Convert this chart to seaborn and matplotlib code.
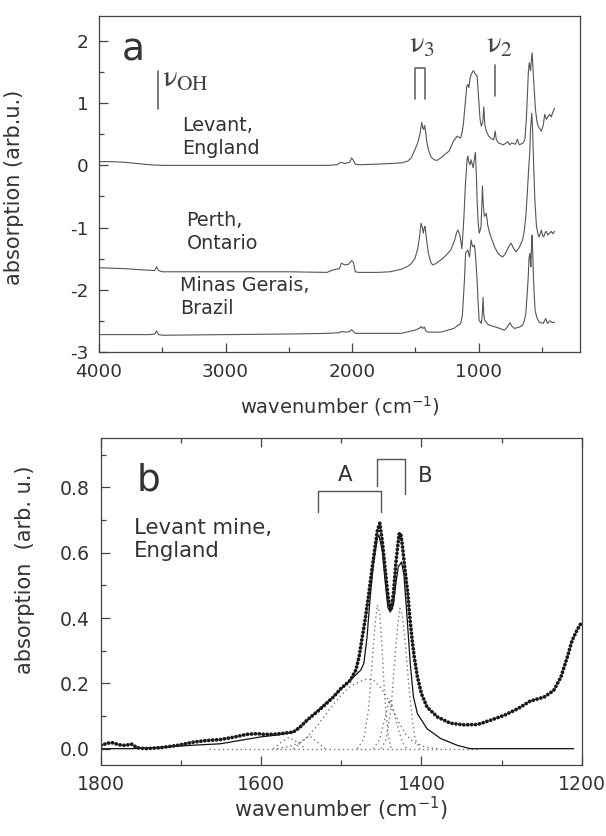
import numpy as np
import pandas as pd
import matplotlib
matplotlib.use("Agg")
import matplotlib.pyplot as plt
from matplotlib.ticker import MultipleLocator, FixedLocator, FormatStrFormatter
import seaborn as sns

# ---------------- panel a data (wavenumber cm-1, absorption arb.u.) ----------------
levant_wn = [4000, 3900, 3800, 3700, 3600, 3500, 3000, 2500, 2200, 2120, 2090, 2060, 2020, 2005, 1990,
             1975, 1950, 1800, 1700, 1612, 1560, 1534, 1505, 1482, 1465, 1450, 1442, 1435, 1428, 1420,
             1412, 1398, 1375, 1352, 1330, 1300, 1260, 1234, 1200, 1170, 1155, 1143, 1130, 1122, 1104,
             1094, 1086, 1078, 1068, 1060, 1044, 1035, 1026, 1013, 1000, 990, 980, 968, 960, 952, 940,
             922, 900, 883, 870, 862, 844, 805, 770, 755, 740, 710, 695, 680, 650, 636, 625, 617, 608,
             601, 591, 584, 578, 570, 565, 552, 540, 531, 515, 505, 490, 479, 466, 455, 440, 427, 415, 401]
levant_abs = [0.06, 0.06, 0.05, 0.03, 0.01, 0.0, 0.0, 0.0, 0.0, 0.01, 0.05, 0.03, 0.05, 0.12, 0.08,
              0.02, 0.01, 0.02, 0.03, 0.04, 0.07, 0.12, 0.25, 0.36, 0.50, 0.69, 0.60, 0.58, 0.64, 0.55,
              0.40, 0.25, 0.13, 0.09, 0.08, 0.12, 0.19, 0.23, 0.39, 0.47, 0.45, 0.44, 0.55, 0.65, 1.06,
              1.28, 1.30, 1.25, 1.40, 1.46, 1.52, 1.50, 1.46, 1.44, 1.06, 0.75, 0.63, 0.70, 0.94, 0.65, 0.55,
              0.47, 0.43, 0.41, 0.55, 0.42, 0.36, 0.33, 0.38, 0.33, 0.36, 0.34, 0.42, 0.33, 0.36, 0.41, 0.70, 1.06, 1.50,
              1.65, 1.52, 1.70, 1.81, 1.50, 1.33, 0.90, 0.70, 0.63, 0.58, 0.55, 0.65, 0.82, 0.74, 0.78, 0.82, 0.78, 0.85, 0.92]

perth_wn = [4000, 3800, 3650, 3560, 3545, 3530, 3500, 3000, 2500, 2200, 2150, 2100, 2085, 2060, 2030,
            2005, 1990, 1975, 1950, 1800, 1700, 1612, 1560, 1534, 1505, 1482, 1468, 1456, 1445, 1438,
            1430, 1424, 1412, 1398, 1380, 1365, 1340, 1300, 1260, 1221, 1190, 1175, 1164, 1150, 1143,
            1133, 1125, 1117, 1105, 1099, 1092, 1086, 1078, 1070, 1060, 1052, 1044, 1035, 1026, 1018,
            1013, 1005, 997, 990, 982, 975, 971, 965, 956, 948, 940, 930, 914, 895, 875, 862, 849, 830,
            810, 790, 771, 755, 745, 725, 706, 680, 654, 640, 628, 615, 604, 597, 591, 581, 575, 570,
            557, 544, 530, 523, 505, 495, 487, 475, 466, 455, 440, 427, 415, 401]
perth_abs = [-1.645, -1.66, -1.68, -1.69, -1.63, -1.69, -1.71, -1.71, -1.71, -1.72, -1.68, -1.66, -1.57, -1.60, -1.59,
             -1.53, -1.56, -1.71, -1.72, -1.72, -1.71, -1.67, -1.62, -1.58, -1.50, -1.34, -1.15, -0.93, -1.00, -1.09,
             -1.00, -0.98, -1.20, -1.41, -1.55, -1.60, -1.58, -1.52, -1.45, -1.36, -1.20, -1.08, -1.04, -1.12, -1.20,
             -1.34, -1.10, -0.82, -0.30, -0.12, 0.10, 0.15, 0.05, 0.01, 0.09, 0.02, -0.04, 0.10, 0.21, -0.20,
             -0.55, -0.90, -1.09, -1.05, -0.98, -0.60, -0.33, -0.60, -0.82, -0.80, -0.77, -0.95, -1.09, -1.20, -1.31, -1.36, -1.41, -1.45,
             -1.47, -1.42, -1.34, -1.28, -1.25, -1.33, -1.39, -1.32, -1.20, -1.05, -0.82, -0.40, 0.0, 0.20, 0.58, 0.84, 0.60, 0.25,
             -0.55, -0.98, -1.12, -1.15, -1.04, -1.13, -1.15, -1.08, -1.06, -1.12, -1.09, -1.06, -1.10, -1.06]

minas_wn = [4000, 3800, 3600, 3560, 3545, 3530, 3500, 3000, 2500, 2200, 2100, 2085, 2050, 2020, 2005,
            1990, 1975, 1900, 1800, 1700, 1612, 1508, 1470, 1456, 1443, 1430, 1418, 1404, 1300, 1196,
            1143, 1130, 1122, 1112, 1104, 1095, 1086, 1080, 1073, 1065, 1060, 1052, 1044, 1035, 1031,
            1022, 1013, 1005, 997, 979, 972, 966, 960, 953, 930, 914, 880, 862, 820, 797, 775, 760, 753,
            740, 719, 680, 654, 640, 628, 615, 609, 603, 596, 590, 588, 583, 578, 572, 568, 560, 555,
            540, 523, 505, 492, 480, 471, 462, 453, 442, 435, 420, 401]
minas_abs = [-2.72, -2.72, -2.72, -2.71, -2.66, -2.72, -2.73, -2.72, -2.71, -2.70, -2.69, -2.67, -2.68, -2.67, -2.64,
             -2.67, -2.70, -2.70, -2.70, -2.70, -2.70, -2.65, -2.62, -2.59, -2.62, -2.60, -2.66, -2.68, -2.68, -2.62,
             -2.54, -2.42, -2.17, -1.80, -1.41, -1.38, -1.36, -1.42, -1.47, -1.30, -1.20, -1.28, -1.31, -1.28, -1.33,
             -1.55, -1.84, -2.20, -2.49, -2.54, -2.40, -2.12, -2.40, -2.49, -2.55, -2.57, -2.59, -2.60, -2.63, -2.65, -2.60, -2.55, -2.53,
             -2.58, -2.62, -2.60, -2.57, -2.50, -2.38, -2.00, -1.79, -1.50, -1.41, -1.60, -1.63, -1.30, -1.12, -1.50, -1.80, -2.15, -2.33,
             -2.45, -2.52, -2.53, -2.54, -2.50, -2.46, -2.52, -2.54, -2.50, -2.50, -2.53, -2.52]

# ---------------- panel b data ----------------
meas_wn = [1800, 1792, 1785, 1778, 1770, 1762, 1755, 1745, 1726, 1705, 1685, 1668, 1651, 1635, 1618,
           1605, 1597, 1585, 1576, 1560, 1552, 1543, 1526, 1510, 1501, 1489, 1482, 1478, 1474, 1470,
           1466, 1462, 1458, 1455, 1452, 1449, 1446, 1443, 1440, 1438, 1435, 1432, 1428, 1426, 1424,
           1421, 1419, 1417, 1415, 1412, 1409, 1405, 1400, 1393, 1380, 1364, 1347, 1330, 1314, 1297,
           1280, 1264, 1247, 1235, 1226, 1218, 1212, 1205, 1200]
meas_abs = [0.010, 0.017, 0.018, 0.012, 0.010, 0.014, 0.003, 0.0, 0.003, 0.010, 0.020, 0.025, 0.028, 0.035, 0.044,
            0.046, 0.044, 0.044, 0.046, 0.051, 0.065, 0.087, 0.122, 0.158, 0.183, 0.209, 0.24, 0.28, 0.34, 0.40,
            0.47, 0.545, 0.617, 0.668, 0.69, 0.637, 0.566, 0.494, 0.433, 0.423, 0.474, 0.566, 0.657, 0.66, 0.625,
            0.556, 0.515, 0.474, 0.413, 0.341, 0.28, 0.219, 0.168, 0.127, 0.097, 0.078, 0.073, 0.074, 0.087, 0.102,
            0.122, 0.146, 0.158, 0.178, 0.219, 0.28, 0.331, 0.367, 0.387]

fit_wn = [1800, 1760, 1720, 1690, 1651, 1620, 1601, 1580, 1560, 1543, 1526, 1510, 1489, 1476, 1472,
          1468, 1464, 1460, 1455, 1453, 1449, 1445, 1442, 1439, 1435, 1432, 1429, 1425, 1422, 1418,
          1414, 1410, 1405, 1393, 1376, 1355, 1339, 1300, 1250, 1210]
fit_abs = [0.0, 0.0, 0.005, 0.010, 0.015, 0.028, 0.036, 0.042, 0.050, 0.085, 0.125, 0.160, 0.209, 0.24, 0.26,
           0.34, 0.464, 0.566, 0.647, 0.652, 0.607, 0.505, 0.433, 0.418, 0.44, 0.505, 0.556, 0.571, 0.535, 0.403,
           0.26, 0.158, 0.107, 0.061, 0.031, 0.010, 0.0, 0.0, 0.0, 0.0]

base_wn = [1665, 1330]
base_abs = [0.0, 0.0]
broad_wn = [1580, 1560, 1545, 1530, 1515, 1500, 1489, 1478, 1468, 1460, 1452, 1444, 1436, 1428, 1420, 1410, 1395, 1380]
broad_abs = [0.0, 0.01, 0.03, 0.07, 0.12, 0.165, 0.19, 0.205, 0.213, 0.21, 0.19, 0.16, 0.12, 0.08, 0.045, 0.02, 0.005, 0.0]
compA_wn = [1480, 1472, 1466, 1462, 1458, 1455, 1452, 1449, 1446, 1442, 1438]
compA_abs = [0.0, 0.03, 0.12, 0.25, 0.38, 0.44, 0.41, 0.30, 0.16, 0.05, 0.0]
compB_wn = [1450, 1444, 1438, 1434, 1430, 1427, 1424, 1420, 1416, 1412, 1408, 1402]
compB_abs = [0.0, 0.03, 0.12, 0.25, 0.37, 0.43, 0.41, 0.32, 0.20, 0.10, 0.03, 0.0]
compC_wn = [1460, 1452, 1446, 1440, 1436, 1430, 1424, 1418]
compC_abs = [0.0, 0.03, 0.09, 0.15, 0.13, 0.07, 0.02, 0.0]
small1_wn = [1585, 1575, 1565, 1555, 1545]
small1_abs = [0.0, 0.02, 0.035, 0.02, 0.0]
small2_wn = [1560, 1550, 1540, 1530, 1520]
small2_abs = [0.0, 0.02, 0.04, 0.02, 0.0]

# ---------------- style ----------------
sns.set_theme(style="ticks")
plt.rcParams.update({
    "font.family": ["DejaVu Sans"],
    "mathtext.fontset": "dejavusans",
    "axes.unicode_minus": False,
    "axes.edgecolor": "#444444",
    "axes.linewidth": 0.9,
    "xtick.direction": "in",
    "ytick.direction": "in",
    "xtick.color": "#444444",
    "ytick.color": "#444444",
    "text.color": "#333333",
    "axes.labelcolor": "#333333",
})

fig = plt.figure(figsize=(6.06, 8.36), dpi=100)
ax1 = fig.add_axes([0.1634, 0.5789, 0.7937, 0.4019])
ax2 = fig.add_axes([0.1667, 0.0849, 0.7932, 0.3908])

# ---------------- panel a ----------------
for wn, ab in [(levant_wn, levant_abs), (perth_wn, perth_abs), (minas_wn, minas_abs)]:
    sns.lineplot(x=wn, y=ab, ax=ax1, estimator=None, sort=False, color="#555555", lw=0.8)

ax1.set_xlim(4000, 200)
ax1.set_ylim(-3, 2.4)
ax1.xaxis.set_major_locator(FixedLocator([4000, 3000, 2000, 1000]))
ax1.xaxis.set_minor_locator(MultipleLocator(500))
ax1.yaxis.set_major_locator(FixedLocator([-3, -2, -1, 0, 1, 2]))
ax1.yaxis.set_minor_locator(MultipleLocator(0.5))
ax1.tick_params(which="major", length=6.5, width=0.9, labelsize=13.3, labelcolor="#333333")
ax1.tick_params(axis="x", pad=8)
ax1.tick_params(axis="y", pad=7.5)
ax1.tick_params(which="minor", length=3.5, width=0.9)
ax1.set_xlabel("wavenumber (cm$^{-1}$)", fontsize=14)
ax1.set_ylabel("absorption (arb.u.)", fontsize=15)
ax1.xaxis.set_label_coords(0.5, -0.125)
ax1.yaxis.set_label_coords(-0.155, 0.49)

ax1.text(3818, 1.68, "a", fontsize=27, va="baseline", ha="left")
ax1.text(3340, 0.79, "Levant,\nEngland", fontsize=13.8, va="top", ha="left", linespacing=1.25)
ax1.text(3308, -0.74, "Perth,\nOntario", fontsize=13.8, va="top", ha="left", linespacing=1.25)
ax1.text(3360, -1.78, "Minas Gerais,\nBrazil", fontsize=13.8, va="top", ha="left", linespacing=1.25)

gray = "#666666"
ax1.plot([3532, 3532], [0.90, 1.52], color=gray, lw=1.2)
t = ax1.text(3500, 1.27, r"$\mathrm{\nu}_{\mathrm{OH}}$", fontsize=22, va="baseline", ha="left", color="#444444")
t.set_math_fontfamily("stix")
ax1.plot([1505, 1505, 1422, 1422], [1.06, 1.57, 1.57, 1.06], color=gray, lw=1.2)
t = ax1.text(1553, 1.81, r"$\mathrm{\nu}_{\mathrm{3}}$", fontsize=22, va="baseline", ha="left", color="#444444")
t.set_math_fontfamily("stix")
ax1.plot([875, 875], [1.11, 1.62], color=gray, lw=1.2)
t = ax1.text(945, 1.81, r"$\mathrm{\nu}_{\mathrm{2}}$", fontsize=22, va="baseline", ha="left", color="#444444")
t.set_math_fontfamily("stix")

# ---------------- panel b ----------------
for wn, ab in [(base_wn, base_abs), (broad_wn, broad_abs), (compA_wn, compA_abs), (compB_wn, compB_abs),
               (compC_wn, compC_abs), (small1_wn, small1_abs), (small2_wn, small2_abs)]:
    sns.lineplot(x=wn, y=ab, ax=ax2, estimator=None, sort=False, color="#777777", lw=1.0,
                 linestyle=(0, (1, 2.2)))
sns.lineplot(x=fit_wn, y=fit_abs, ax=ax2, estimator=None, sort=False, color="#111111", lw=0.9)
sns.lineplot(x=meas_wn, y=meas_abs, ax=ax2, estimator=None, sort=False, color="#1a1a1a", lw=2.7,
             linestyle=(0, (0.05, 1.0)), dash_capstyle="round")

ax2.set_xlim(1800, 1200)
ax2.set_ylim(-0.05, 0.95)
ax2.xaxis.set_major_locator(MultipleLocator(200))
ax2.xaxis.set_minor_locator(MultipleLocator(100))
ax2.yaxis.set_major_locator(FixedLocator([0.0, 0.2, 0.4, 0.6, 0.8]))
ax2.yaxis.set_minor_locator(MultipleLocator(0.1))
ax2.yaxis.set_major_formatter(FormatStrFormatter("%.1f"))
ax2.tick_params(which="major", length=6.5, width=0.9, labelsize=13.6, labelcolor="#333333", top=True)
ax2.tick_params(which="minor", length=3.5, width=0.9, top=True)
ax2.tick_params(axis="x", pad=7)
ax2.tick_params(axis="y", pad=8)
ax2.set_xlabel("wavenumber (cm$^{-1}$)", fontsize=15)
ax2.set_ylabel("absorption  (arb. u.)", fontsize=15)
ax2.xaxis.set_label_coords(0.5, -0.09)
ax2.yaxis.set_label_coords(-0.137, 0.597)

ax2.text(1755, 0.79, "b", fontsize=27, va="baseline", ha="left")
ax2.text(1759, 0.706, "Levant mine,\nEngland", fontsize=15.3, va="top", ha="left", linespacing=1.2)
ax2.plot([1529, 1529, 1451, 1451], [0.724, 0.788, 0.788, 0.724], color="#555555", lw=1.0)
ax2.plot([1455, 1455, 1421, 1421], [0.805, 0.887, 0.887, 0.78], color="#555555", lw=1.0)
ax2.text(1495, 0.839, "A", fontsize=15.3, va="center", ha="center")
ax2.text(1395, 0.836, "B", fontsize=15.3, va="center", ha="center")

fig.savefig("out.png", dpi=100)
